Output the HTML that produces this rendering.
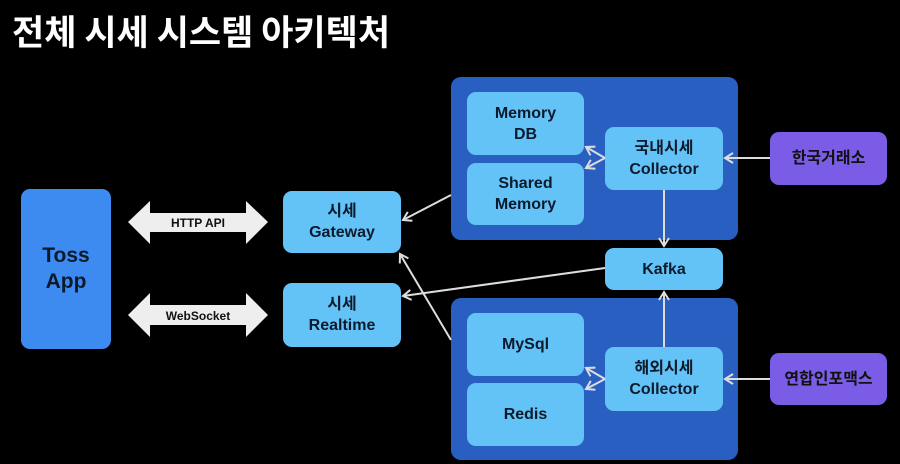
<!DOCTYPE html>
<html><head><meta charset="utf-8"><style>
body{margin:0;width:900px;height:464px;background:#000;position:relative;overflow:hidden;font-family:"Liberation Sans","Noto Sans CJK KR",sans-serif;font-weight:bold}
.b{position:absolute;display:flex;align-items:center;justify-content:center;text-align:center;border-radius:9px;color:#0c1a2e;font-size:16px;line-height:21px}
.c{background:#2a5fc2;border-radius:10px}
.l{background:#64c3f6}
.p{background:#7a5ce6;color:#111}
h1{position:absolute;left:12px;top:5px;margin:0;color:#fff;font-size:35px;font-family:"Noto Sans CJK KR",sans-serif;font-weight:bold;letter-spacing:0px}
svg{position:absolute;left:0;top:0}
</style></head><body>
<h1>전체 시세 시스템 아키텍처</h1>
<div class="b c" style="left:451px;top:77px;width:287px;height:163px"></div>
<div class="b c" style="left:451px;top:298px;width:287px;height:162px"></div>
<div class="b" style="left:21px;top:189px;width:90px;height:160px;background:#3d8bf0;font-size:21px;line-height:26px">Toss<br>App</div>
<div class="b l" style="left:283px;top:191px;width:118px;height:62px">시세<br>Gateway</div>
<div class="b l" style="left:283px;top:283px;width:118px;height:64px">시세<br>Realtime</div>
<div class="b l" style="left:467px;top:92px;width:117px;height:63px">Memory<br>DB</div>
<div class="b l" style="left:467px;top:163px;width:117px;height:62px">Shared<br>Memory</div>
<div class="b l" style="left:605px;top:127px;width:118px;height:63px">국내시세<br>Collector</div>
<div class="b l" style="left:605px;top:248px;width:118px;height:42px">Kafka</div>
<div class="b l" style="left:467px;top:313px;width:117px;height:63px">MySql</div>
<div class="b l" style="left:467px;top:383px;width:117px;height:63px">Redis</div>
<div class="b l" style="left:605px;top:347px;width:118px;height:64px">해외시세<br>Collector</div>
<div class="b p" style="left:770px;top:132px;width:117px;height:53px">한국거래소</div>
<div class="b p" style="left:770px;top:353px;width:117px;height:52px">연합인포맥스</div>
<svg width="900" height="464">
<defs><marker id="a" markerWidth="12" markerHeight="12" refX="9" refY="6" orient="auto" markerUnits="userSpaceOnUse"><path d="M1,1 L9,6 L1,11" fill="none" stroke="#ddd" stroke-width="2"/></marker></defs>
<polygon points="128,222 150,201 150,213 246,213 246,201 268,222 246,244 246,232 150,232 150,244" fill="#eee"/>
<polygon points="128,315 150,293 150,305 246,305 246,293 268,315 246,337 246,325 150,325 150,337" fill="#eee"/>
<text x="198" y="227" font-size="12" text-anchor="middle" fill="#111" font-family="Liberation Sans" font-weight="bold">HTTP API</text>
<text x="198" y="320" font-size="12" text-anchor="middle" fill="#111" font-family="Liberation Sans" font-weight="bold">WebSocket</text>
<g stroke="#ddd" stroke-width="2" fill="none" marker-end="url(#a)">
<line x1="451" y1="195" x2="403" y2="220"/>
<line x1="605" y1="268" x2="403" y2="296"/>
<line x1="451" y1="340" x2="400" y2="254"/>
<line x1="664" y1="190" x2="664" y2="246"/>
<line x1="664" y1="347" x2="664" y2="292"/>
<line x1="770" y1="158" x2="725" y2="158"/>
<line x1="770" y1="379" x2="725" y2="379"/>
<line x1="605" y1="158" x2="586" y2="147"/>
<line x1="605" y1="158" x2="586" y2="168"/>
<line x1="605" y1="379" x2="586" y2="368"/>
<line x1="605" y1="379" x2="586" y2="389"/>
</g>
</svg>
</body></html>
